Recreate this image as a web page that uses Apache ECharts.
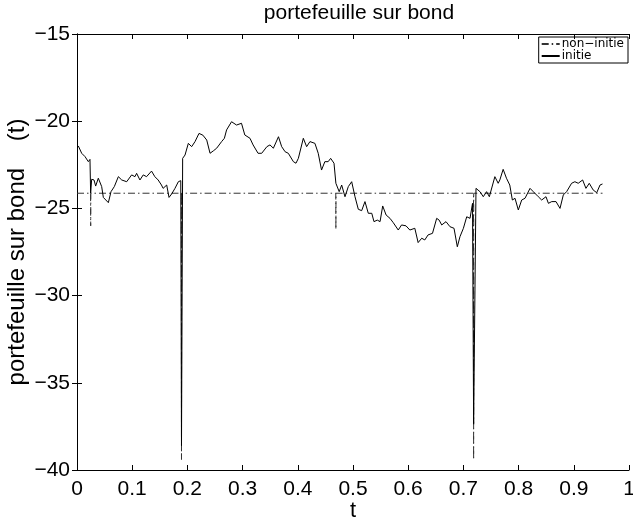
<!DOCTYPE html>
<html>
<head>
<meta charset="utf-8">
<script src="https://cdn.jsdelivr.net/npm/echarts@6/dist/echarts.min.js"></script>
<style>html,body{margin:0;padding:0;background:#fff}#c{width:633px;height:528px}</style>
</head>
<body>
<div id="c"></div>
<script>
// ---- data ----
var titleText = "portefeuille sur bond";
var yAxisName = "portefeuille sur bond    (t)";
var xAxisName = "t";
var seriesNames = ["non\u2212initie", "initie"];

var initieT = [0.0024,0.0085,0.0145,0.0205,0.0235,0.0247,0.0266,0.0308,0.0338,0.0386,0.0447,0.0477,0.0568,0.0616,0.0676,0.0749,0.081,0.09,0.099,0.105,0.108,0.114,0.120,0.126,0.135,0.141,0.147,0.153,0.156,0.1625,0.1667,0.1715,0.1775,0.1836,0.188,0.1893,0.1914,0.1957,0.2017,0.2077,0.2138,0.221,0.228,0.235,0.241,0.247,0.253,0.262,0.267,0.271,0.280,0.289,0.298,0.304,0.3134,0.319,0.328,0.3346,0.344,0.3496,0.3557,0.365,0.3708,0.377,0.3828,0.392,0.3967,0.401,0.41,0.416,0.422,0.431,0.437,0.443,0.449,0.455,0.4595,0.4656,0.469,0.475,0.4795,0.4855,0.4915,0.4976,0.5036,0.5096,0.5157,0.5217,0.5277,0.534,0.538,0.544,0.549,0.5538,0.56,0.567,0.573,0.582,0.588,0.596,0.603,0.612,0.618,0.6245,0.630,0.636,0.644,0.6516,0.656,0.6607,0.6685,0.6757,0.683,0.689,0.6938,0.700,0.706,0.712,0.7165,0.7185,0.7228,0.730,0.736,0.742,0.747,0.757,0.763,0.766,0.772,0.778,0.784,0.7887,0.7935,0.7995,0.8056,0.8116,0.8207,0.8266,0.8357,0.8418,0.8496,0.854,0.86,0.8678,0.875,0.881,0.887,0.896,0.902,0.908,0.916,0.922,0.928,0.935,0.9415,0.9475,0.952];
var initieV = [-21.42,-21.84,-22.03,-22.32,-22.19,-24.13,-23.33,-23.37,-23.72,-23.27,-23.75,-24.37,-24.67,-24.04,-23.75,-23.18,-23.37,-23.47,-23.08,-23.18,-22.99,-23.37,-23.08,-23.18,-22.86,-23.18,-23.37,-23.66,-23.85,-23.66,-24.37,-24.17,-23.85,-23.47,-23.41,-38.6,-22.13,-21.94,-21.27,-21.46,-21.17,-20.7,-20.8,-21.08,-21.84,-21.7,-21.55,-21.17,-20.98,-20.5,-20.03,-20.22,-20.12,-20.79,-20.98,-21.36,-21.84,-21.84,-21.46,-21.36,-21.55,-20.89,-21.46,-21.75,-21.84,-22.32,-22.41,-22.13,-20.98,-21.46,-21.17,-21.27,-21.84,-22.8,-22.32,-22.32,-22.13,-22.41,-23.56,-24.04,-23.66,-24.33,-23.75,-23.47,-24.33,-25.05,-25.13,-24.61,-25.28,-25.28,-25.76,-25.67,-25.76,-24.86,-25.38,-25.57,-25.82,-26.24,-25.95,-26.0,-26.24,-26.14,-26.96,-26.71,-26.81,-26.52,-26.43,-25.57,-25.67,-25.95,-25.76,-26.05,-26.14,-27.2,-26.62,-26.14,-25.48,-25.57,-24.71,-37.35,-23.85,-24.04,-24.33,-24.04,-24.33,-23.18,-23.56,-23.37,-22.76,-23.27,-23.66,-24.52,-24.42,-25.09,-24.52,-24.42,-23.85,-24.04,-24.33,-24.52,-24.33,-24.71,-24.61,-24.61,-25.0,-24.23,-24.04,-23.56,-23.47,-23.56,-23.37,-23.85,-23.56,-23.94,-24.1,-23.66,-23.6];

var nonInitieT = [0.0, 0.0246, 0.0248, 0.0250, 0.1891, 0.1893, 0.1895, 0.4688, 0.469, 0.4692, 0.7183, 0.7185, 0.7187, 0.952];
var nonInitieV = [-24.13, -24.13, -26.0, -24.13, -24.13, -39.4, -24.13, -24.13, -26.2, -24.13, -24.13, -39.4, -24.13, -24.13];

var xTickMin = 0, xTickMax = 1, xTickStep = 0.1;
var yTickMin = -40, yTickMax = -15, yTickStep = 5;

// ---- build ----
function zip(a, b) { var r = []; for (var i = 0; i < a.length; i++) r.push([a[i], b[i]]); return r; }
var font = "Liberation Sans, Arial, Helvetica, sans-serif";
function fmtY(v) { return String(v).replace('-', '\u2212'); }
function fmtX(v) { return String(Math.round(v * 10) / 10); }

var chart = echarts.init(document.getElementById('c'), null, { renderer: 'canvas' });
var axisLine = { show: true, lineStyle: { color: '#000', width: 1 } };
var tick = { show: true, inside: true, length: 5, lineStyle: { color: '#000', width: 1 } };
chart.setOption({
  animation: false,
  backgroundColor: '#fff',
  title: {
    text: titleText, left: 354, top: -2, textAlign: 'center',
    textStyle: { fontFamily: font, fontSize: 21, fontWeight: 'normal', color: '#000' }
  },
  legend: {
    orient: 'vertical', right: 5, top: 37, itemGap: 0, itemWidth: 18, itemHeight: 8,
    padding: [1, 4, 1, 2], borderColor: '#000', borderWidth: 1, borderRadius: 0,
    itemStyle: { opacity: 0 },
    textStyle: { fontFamily: "DejaVu Sans, sans-serif", fontSize: 12, lineHeight: 11, color: '#000', padding: [0, 0, 0, -3] },
    data: seriesNames
  },
  grid: { left: 77, right: 4, top: 34, bottom: 58, containLabel: false, outerBoundsMode: 'none' },
  xAxis: [{
    type: 'value', min: xTickMin, max: xTickMax, interval: xTickStep, position: 'bottom',
    name: xAxisName, nameLocation: 'middle', nameGap: 30, nameMoveOverlap: false,
    nameTextStyle: { fontFamily: font, fontSize: 22, color: '#000' },
    axisLine: axisLine, axisTick: tick, splitLine: { show: false },
    axisLabel: { formatter: fmtX, fontFamily: font, fontSize: 21, color: '#000', margin: 9 }
  }, {
    type: 'value', min: xTickMin, max: xTickMax, interval: xTickStep, position: 'top',
    axisLine: axisLine, axisTick: tick, splitLine: { show: false }, axisLabel: { show: false }
  }],
  yAxis: [{
    type: 'value', min: yTickMin, max: yTickMax, interval: yTickStep, position: 'left',
    name: yAxisName, nameLocation: 'middle', nameGap: 48, nameRotate: 90, nameMoveOverlap: false,
    nameTextStyle: { fontFamily: font, fontSize: 24, color: '#000' },
    axisLine: axisLine, axisTick: tick, splitLine: { show: false },
    axisLabel: { formatter: fmtY, fontFamily: font, fontSize: 21, color: '#000', margin: 7 }
  }, {
    type: 'value', min: yTickMin, max: yTickMax, interval: yTickStep, position: 'right',
    axisLine: axisLine, axisTick: tick, splitLine: { show: false }, axisLabel: { show: false }
  }],
  series: [{
    name: seriesNames[0], type: 'line', xAxisIndex: 0, yAxisIndex: 0,
    data: zip(nonInitieT, nonInitieV), showSymbol: false, symbol: 'none',
    lineStyle: { color: '#333', width: 1, type: [7, 3, 1.5, 3] }, itemStyle: { color: '#333' }, z: 2
  }, {
    name: seriesNames[1], type: 'line', xAxisIndex: 0, yAxisIndex: 0,
    data: zip(initieT, initieV), showSymbol: false, symbol: 'none',
    lineStyle: { color: '#000', width: 1 }, itemStyle: { color: '#000' }, z: 3
  }]
});
</script>
</body>
</html>
